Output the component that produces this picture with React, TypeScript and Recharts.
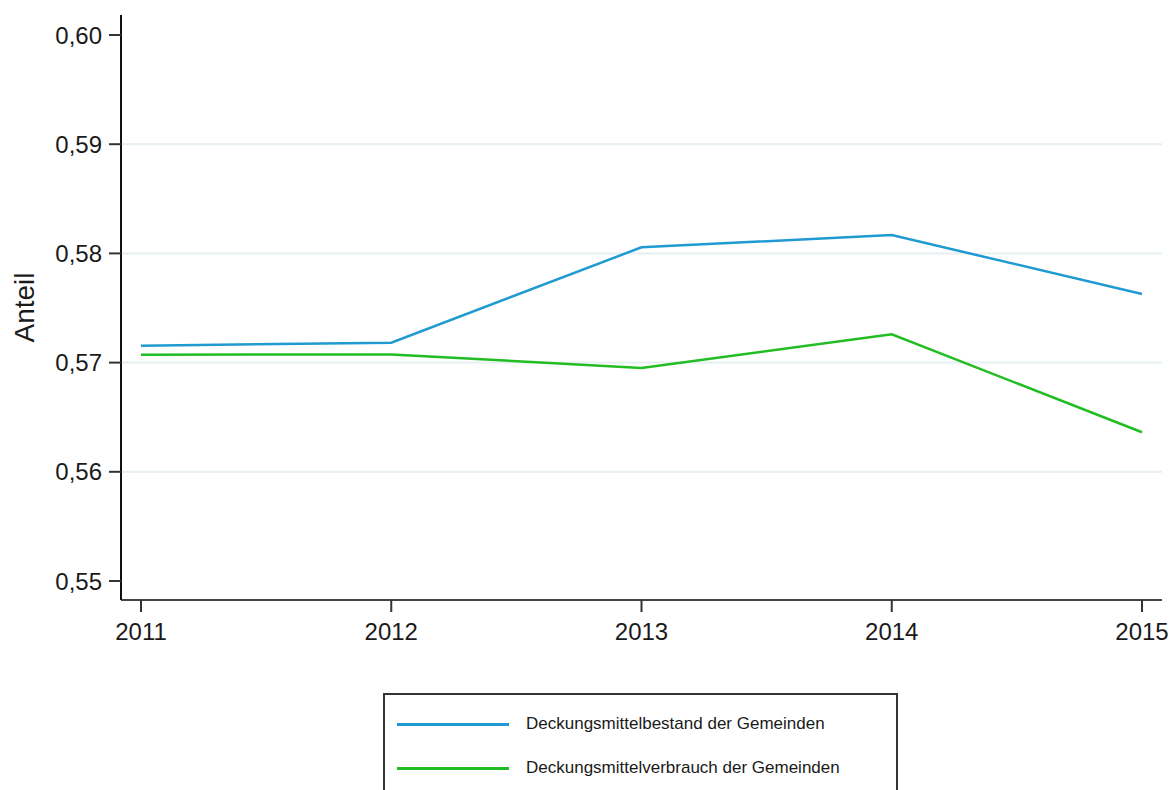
import React from 'react';
import { LineChart, Line, XAxis, YAxis, CartesianGrid, Label } from 'recharts';

const years = [2011, 2012, 2013, 2014, 2015];
const bestand = [0.57155, 0.57182, 0.58056, 0.58168, 0.57628];
const verbrauch = [0.57072, 0.57075, 0.56951, 0.57259, 0.56362];
const yTicks = [0.55, 0.56, 0.57, 0.58, 0.59, 0.6];
const gridValues = [0.56, 0.57, 0.58, 0.59];

const seriesNames = ['Deckungsmittelbestand der Gemeinden', 'Deckungsmittelverbrauch der Gemeinden'];
const seriesColors = ['#1f9bd1', '#22bd22'];

const data = years.map((y, i) => ({ year: y, bestand: bestand[i], verbrauch: verbrauch[i] }));

const FONT = '"Liberation Sans", Arial, sans-serif';

const fmt = (v: number) => v.toFixed(2).replace('.', ',');

export default function App() {
  return (
    <div style={{ position: 'absolute', left: 0, top: 0, width: 1170, height: 790, background: '#fff', overflow: 'hidden', fontFamily: FONT }}>
      <LineChart width={1170} height={790} data={data} margin={{ top: 15, right: 8, bottom: 130, left: 0 }}>
        <CartesianGrid horizontal vertical={false} horizontalValues={gridValues} stroke="#e6eff2" strokeWidth={2} />
        <XAxis
          dataKey="year"
          type="number"
          domain={[2011, 2015]}
          ticks={years}
          padding={{ left: 20, right: 20 }}
          height={60}
          tickSize={12}
          tickMargin={11}
          axisLine={{ stroke: '#444', strokeWidth: 2 }}
          tickLine={{ stroke: '#333', strokeWidth: 2 }}
          tick={{ fill: '#1a1a1a', fontSize: 24, fontFamily: FONT }}
          allowDecimals={false}
        />
        <YAxis
          type="number"
          domain={[0.548260, 0.601832]}
          ticks={yTicks}
          width={121}
          tickSize={12}
          tickMargin={7}
          tickFormatter={fmt}
          axisLine={{ stroke: '#111', strokeWidth: 2 }}
          tickLine={{ stroke: '#333', strokeWidth: 2 }}
          tick={{ fill: '#1a1a1a', fontSize: 24, fontFamily: FONT }}
          allowDataOverflow
        >
          <Label
            value="Anteil"
            angle={-90}
            position="insideLeft"
            offset={0}
            dx={24}
            style={{ fontSize: 28, fill: '#1a1a1a', fontFamily: FONT, textAnchor: 'middle' }}
          />
        </YAxis>
        <Line dataKey="bestand" name={seriesNames[0]} stroke={seriesColors[0]} strokeWidth={2.5} dot={false} isAnimationActive={false} />
        <Line dataKey="verbrauch" name={seriesNames[1]} stroke={seriesColors[1]} strokeWidth={2.5} dot={false} isAnimationActive={false} />
      </LineChart>
      <div
        style={{
          position: 'absolute',
          left: 383,
          top: 693,
          width: 511,
          height: 120,
          border: '2px solid #333',
          background: '#fff',
        }}
      >
        {seriesNames.map((n, i) => (
          <div key={n} style={{ position: 'absolute', left: 0, top: 18 + i * 44, height: 22, display: 'flex', alignItems: 'center' }}>
            <div style={{ marginLeft: 12, width: 112, height: 0, borderTop: `3px solid ${seriesColors[i]}` }} />
            <span style={{ marginLeft: 17, fontSize: 17, color: '#1a1a1a', fontFamily: FONT, whiteSpace: 'nowrap' }}>{n}</span>
          </div>
        ))}
      </div>
    </div>
  );
}
